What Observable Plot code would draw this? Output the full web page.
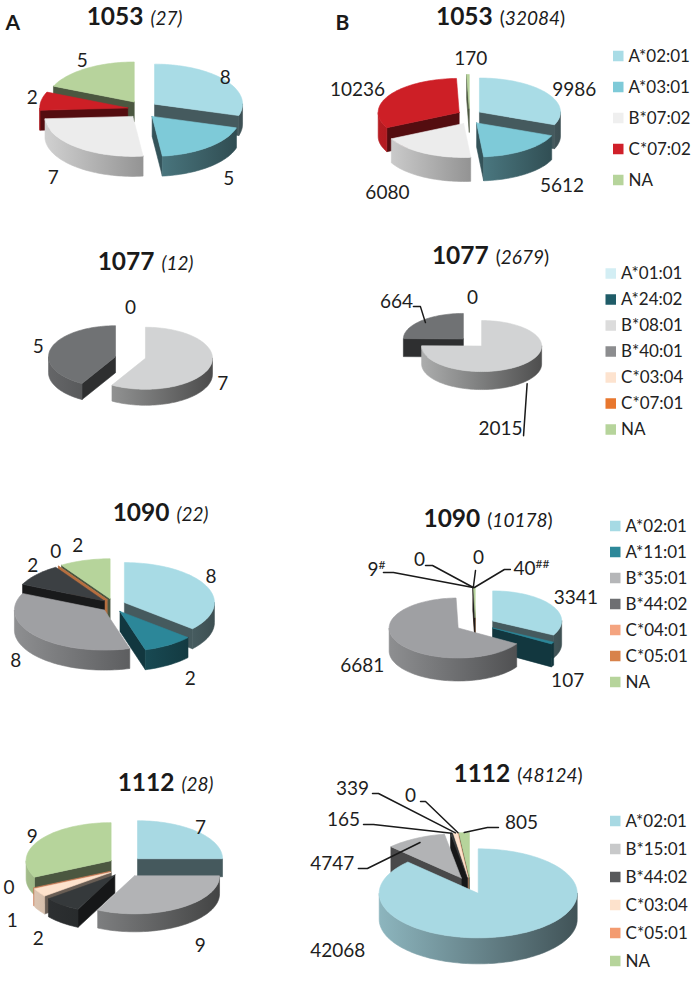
<!DOCTYPE html>
<html><head><meta charset="utf-8">
<script src="https://cdn.jsdelivr.net/npm/d3@7"></script>
<script src="https://cdn.jsdelivr.net/npm/@observablehq/plot@0.6"></script>
<style>
html,body{margin:0;padding:0;background:#fff;}
#chart svg{display:block;}
</style></head><body><div id="chart"></div>
<script>
// ---------------- DATA ----------------
const epitopes = ["1053", "1077", "1090", "1112"];
const panelNames = ["A", "B"];
const totalsA = [27, 12, 22, 28];
const totalsB = [32084, 2679, 10178, 48124];

const alleles1053 = ["A*02:01", "A*03:01", "B*07:02", "C*07:02", "NA"];
const countsA1053 = [8, 5, 7, 2, 5];
const countsB1053 = [9986, 5612, 6080, 10236, 170];

const alleles1077 = ["A*01:01", "A*24:02", "B*08:01", "B*40:01", "C*03:04", "C*07:01", "NA"];
const countsA1077 = [0, null, 7, 5, null, null, null];
const countsB1077 = [0, null, 2015, 664, null, null, null];

const alleles1090 = ["A*02:01", "A*11:01", "B*35:01", "B*44:02", "C*04:01", "C*05:01", "NA"];
const countsA1090 = [8, 2, 8, 2, 0, 0, 2];
const countsB1090 = [3341, 107, 6681, 9, 0, 0, 40];
const notesB1090 = ["", "", "", "#", "", "", "##"];

const alleles1112 = ["A*02:01", "B*15:01", "B*44:02", "C*03:04", "C*05:01", "NA"];
const countsA1112 = [7, 9, 2, 1, 0, 9];
const countsB1112 = [42068, 4747, 165, 339, 0, 805];

// ---------------- STYLES ----------------
const pie1053 = ["#a9dce6", "#7ecad8", "#ececec", "#cd1f26", "#b7d39c"];
const key1053 = ["#a9dce6", "#7ecad8", "#efefef", "#d0202a", "#b6d49b"];
const pie1077 = ["#d3eef4", "#1f5c68", "#d2d3d4", "#707274", "#fde3cf", "#e8772e", "#b6d49b"];
const key1077 = ["#d3eef4", "#1f5c68", "#dcdcdc", "#8c8d8f", "#fde3cf", "#e8772e", "#b6d49b"];
const pie1090 = ["#a8dbe5", "#2c8799", "#9fa0a3", "#3c4043", "#f4a480", "#d9834b", "#b6d49b"];
const key1090 = ["#a6dae4", "#2d8899", "#b5b6b8", "#6e6f72", "#f4a480", "#d8824a", "#b6d49b"];
const pie1112 = ["#a8d9e3", "#b2b3b5", "#35393b", "#fde2cc", "#f0956a", "#b6d49b"];
const key1112 = ["#a8d9e3", "#c8c9ca", "#58595b", "#fde2cc", "#f39b70", "#b6d49b"];

// ---------------- LAYOUT ----------------
const charts = [
  {ep: 0, panel: 0, alleles: alleles1053, counts: countsA1053, colors: pie1053, total: totalsA[0],
   cx: 142, cy: 109, rx: 88, ry: 40, depth: 20, ex: 15, ey: 9, tx: 134, ty: 24,
   nudge: [[-11, 6], [11, 1], [-14, 0], [5, -1], [4, 4]]},
  {ep: 0, panel: 1, alleles: alleles1053, counts: countsB1053, colors: pie1053, total: totalsB[0], key: key1053,
   cx: 469, cy: 116, rx: 81, ry: 34, depth: 24, ex: 12, ey: 8, tx: 500, ty: 24,
   nudge: [[16, 5], [29, 0], [-30, 3], [-20, 2], [3, -2]],
   legend: {x: 613, y: 56, step: 31}},
  {ep: 1, panel: 0, alleles: alleles1077, counts: countsA1077, colors: pie1077, total: totalsA[1],
   cx: 130, cy: 357, rx: 67, ry: 31, depth: 16, ex: 15.5, ey: 3, tx: 145, ty: 269,
   nudge: [[0, -2], null, [-1, -2], [1, 2]]},
  {ep: 1, panel: 1, alleles: alleles1077, counts: countsB1077, colors: pie1077, total: totalsB[1], key: key1077,
   cx: 472, cy: 342, rx: 60, ry: 25.5, depth: 18, ex: 13, ey: 5, tx: 490, ty: 263,
   nudge: [[0, 0]],
   leaders: [{i: 3, rf: 0.9, dx: -29, dy: -21, sx: 17, sy: 5, elbow: 7},
             {i: 2, rf: 1.08, side: true, dx: -26.6, dy: 45, sx: 23, sy: 7, elbow: 0}],
   legend: {x: 605.5, y: 273.5, step: 26}},
  {ep: 2, panel: 0, alleles: alleles1090, counts: countsA1090, colors: pie1090, total: totalsA[2],
   cx: 113, cy: 605, rx: 90, ry: 40, depth: 20, ex: 12, ey: 7, tx: 160, ty: 520,
   nudge: [[-8, -3], [14, 2], [-10, -5], [7, 0], [5, -2], null, [-3, -1]], hide: [5]},
  {ep: 2, panel: 1, alleles: alleles1090, counts: countsB1090, notes: notesB1090, colors: pie1090, total: totalsB[2], key: key1090,
   cx: 475, cy: 624, rx: 69, ry: 30, depth: 23, ex: 20, ey: 7, tx: 487.5, ty: 526,
   nudge: [[12, 0], [3, 8], [-24, -7]],
   leaders: [{i: 3, rf: 1, dx: -96.6, dy: -18, sx: 7, sy: 3, elbow: 10},
             {i: 4, rf: 1, dx: -53.8, dy: -28, sx: 6, sy: 6, elbow: 7},
             {i: 5, rf: 1, dx: 5.2, dy: -30, sx: -3, sy: 13, elbow: 0},
             {i: 6, rf: 1, dx: 57, dy: -19, sx: -21, sy: 1, elbow: -6}],
   legend: {x: 610, y: 526, step: 26}},
  {ep: 3, panel: 0, alleles: alleles1112, counts: countsA1112, colors: pie1112, total: totalsA[3],
   cx: 125, cy: 866, rx: 85, ry: 38, depth: 18, ex: 17, ey: 11, tx: 165, ty: 790,
   nudge: [[-7, 6], [13, 8], [-15, 5], [-15, 3], [-12, -24], [5, 4]]},
  {ep: 3, panel: 1, alleles: alleles1112, counts: countsB1112, colors: pie1112, total: totalsB[3], key: key1112,
   cx: 470, cy: 885, rx: 99, ry: 44.5, depth: 26, ex: 20, ey: 8.5, tx: 517.5, ty: 781,
   nudge: [[-184, -22]],
   leaders: [{i: 1, rf: 0.9, dx: -87.7, dy: 21, sx: 26, sy: 5, elbow: 9},
             {i: 2, rf: 1, dx: -108, dy: -13.7, sx: 20, sy: 5, elbow: 10},
             {i: 3, rf: 1, dx: -102.9, dy: -44.4, sx: 20, sy: 5, elbow: 6},
             {i: 4, rf: 1, dx: -47.5, dy: -37.3, sx: 10, sy: 6, elbow: 5},
             {i: 5, rf: 1, dx: 57.2, dy: -10.1, sx: -23, sy: 5, elbow: -11}],
   legend: {x: 610, y: 821, step: 28}}
];
const panelLetters = [{name: panelNames[0], x: 5, y: 29}, {name: panelNames[1], x: 335, y: 29}];

// ---------------- GEOMETRY ----------------
const rad = d => d * Math.PI / 180;
const polys = [], labelRows = [], leaderRows = [], gradients = [], titleRows = [], legendRows = [];

charts.forEach((c, ci) => {
  const total = d3.sum(c.counts.filter(v => v != null));
  let acc = 0;
  const slices = [];
  c.counts.forEach((v, i) => {
    if (v == null) return;
    const a0 = acc / total * 360; acc += v; const a1 = acc / total * 360;
    const am = (a0 + a1) / 2, t = rad(am);
    slices.push({i, v, a0, a1, am, ox: c.ex * Math.sin(t), oy: -c.ey * Math.cos(t), color: c.colors[i]});
  });
  const P = (s, th, r, z) => { const t = rad(th); return [c.cx + s.ox + r * c.rx * Math.sin(t), c.cy + s.oy - r * c.ry * Math.cos(t) + z]; };
  const arc = (s, b0, b1, z) => { const n = Math.max(1, Math.ceil((b1 - b0) / 2)); return d3.range(n + 1).map(k => P(s, b0 + (b1 - b0) * k / n, 1, z)); };
  const gx0 = c.cx - c.rx - c.ex, gx1 = c.cx + c.rx + c.ex;
  const d = c.depth;
  slices.forEach(s => {
    const base = d3.color(s.color);
    const gid = `g${ci}_${s.i}`;
    gradients.push({id: gid, x1: gx0, x2: gx1, stops: [[0, base.darker(0.3)], [0.5, base.darker(1.3)], [1, base.darker(2.9)]]});
    const wallFill = base.darker(2.5).formatHex();
    const zero = s.a1 - s.a0 < 1e-9;
    const V = P(s, 0, 0, 0), Vb = P(s, 0, 0, d);
    const sin0 = Math.sin(rad(s.a0)), sin1 = Math.sin(rad(s.a1));
    const radial = (a, f) => ({fill: f, pts: [V, P(s, a, 1, 0), P(s, a, 1, d), Vb]});
    const walls = [];
    if (zero) {
      if (Math.abs(sin0) > 1e-6) walls.push(radial(s.a0, base.darker(0.5).formatHex()));
    } else {
      if (sin0 < -1e-6) walls.push(radial(s.a0, wallFill));
      if (sin1 > 1e-6) walls.push(radial(s.a1, wallFill));
      const b0 = Math.max(s.a0, 90), b1 = Math.min(s.a1, 270);
      if (b1 - b0 > 1e-6) walls.push({fill: `url(#${gid})`, pts: [...arc(s, b0, b1, 0), ...arc(s, b0, b1, d).reverse()]});
    }
    walls.forEach(w => polys.push({...w, layer: 0, key: d3.mean(w.pts, p => p[1])}));
    if (!zero) polys.push({fill: s.color, layer: 1, key: 0, pts: [V, ...arc(s, s.a0, s.a1, 0)]});

    // labels
    const note = c.notes ? c.notes[s.i] : "";
    const text = String(s.v) + (note ? "^" + note : "");
    const t = rad(s.am), sn = Math.sin(t), cs = Math.cos(t);
    const ld = c.leaders ? c.leaders.find(l => l.i === s.i) : null;
    if (ld) {
      const A = [c.cx + (c.ex + ld.rf * c.rx) * sn, c.cy - (c.ey + ld.rf * c.ry) * cs + (ld.side ? d : 0)];
      const L = [A[0] + ld.dx, A[1] + ld.dy];
      labelRows.push({x: L[0], y: L[1], text});
      const st = [L[0] + ld.sx, L[1] + ld.sy];
      const pts = [st];
      if (ld.elbow) pts.push([st[0] + ld.elbow, st[1]]);
      pts.push(A);
      const lid = `${ci}_${s.i}`;
      pts.forEach(([x, y]) => leaderRows.push({id: lid, x, y}));
    } else if (!(c.hide && c.hide.includes(s.i))) {
      const front = cs < 0;
      const A = [c.cx + (c.ex + c.rx) * sn, c.cy - (c.ey + c.ry) * cs + (front ? d : 0)];
      const nz = (c.nudge && c.nudge[s.i]) || [0, 0];
      labelRows.push({x: A[0] + 14 * sn + nz[0], y: A[1] - 14 * cs + nz[1], text});
    }
  });
  titleRows.push({x: c.tx, y: c.ty, ep: epitopes[c.ep], panel: c.panel, total: c.total, plain: `${epitopes[c.ep]} (${c.total})`});
  if (c.legend) {
    c.alleles.forEach((a, i) => {
      const y = c.legend.y + i * c.legend.step;
      legendRows.push({name: a, color: c.key[i], x1: c.legend.x, x2: c.legend.x + 10.5, y1: y - 5.25, y2: y + 5.25, tx: c.legend.x + 15, y});
    });
  }
});

polys.sort((a, b) => a.layer - b.layer || a.key - b.key);
const polyRows = polys.flatMap((p, k) => [...p.pts, p.pts[0]].map(([x, y]) => ({id: k, x, y, fill: p.fill})));

// ---------------- PLOT ----------------
const svg = Plot.plot({
  width: 693, height: 984, margin: 0,
  x: {domain: [0, 693], range: [0, 693], axis: null},
  y: {domain: [0, 984], range: [0, 984], axis: null},
  color: {type: "identity"},
  style: {fontFamily: "Lato, 'Open Sans', sans-serif", background: "#fff"},
  marks: [
    Plot.line(polyRows, {x: "x", y: "y", z: "id", fill: "fill", stroke: "fill", strokeWidth: 0.6, curve: "linear"}),
    Plot.line(leaderRows, {x: "x", y: "y", z: "id", stroke: "#1a1a1a", strokeWidth: 1.5}),
    Plot.text(labelRows, {x: "x", y: "y", text: "text", fontSize: 19, fill: "#1e1e1e"}),
    Plot.text(titleRows, {x: "x", y: "y", text: "plain", lineAnchor: "bottom", fontSize: 19, fill: "#1a1a1a"}),
    Plot.text(panelLetters, {x: "x", y: "y", text: "name", textAnchor: "start", lineAnchor: "bottom", fontSize: 21, fontWeight: "bold", fill: "#1a1a1a"}),
    Plot.rect(legendRows, {x1: "x1", x2: "x2", y1: "y1", y2: "y2", fill: "color"}),
    Plot.text(legendRows, {x: "tx", y: "y", text: "name", textAnchor: "start", fontSize: 17, fill: "#222"})
  ]
});
document.getElementById("chart").appendChild(svg);

const root = d3.select(svg);
const defs = root.insert("defs", ":first-child");
gradients.forEach(g => {
  const lg = defs.append("linearGradient").attr("id", g.id).attr("gradientUnits", "userSpaceOnUse")
    .attr("x1", g.x1).attr("x2", g.x2).attr("y1", 0).attr("y2", 0);
  g.stops.forEach(([o, col]) => lg.append("stop").attr("offset", o).attr("stop-color", col.formatHex()));
});

root.selectAll("text").each(function () {
  const s = this.textContent;
  const el = d3.select(this);
  const t = titleRows.find(r => r.plain === s);
  if (t) {
    el.text(null);
    el.append("tspan").attr("font-weight", "bold").attr("font-size", 24.5).text(t.ep);
    if (t.panel === 0) {
      el.append("tspan").attr("dx", 7).attr("font-size", 19).attr("font-style", "italic").text(`(${t.total})`);
    } else {
      el.append("tspan").attr("dx", 7).attr("font-size", 19).text("(");
      el.append("tspan").attr("font-size", 19).attr("font-style", "italic").text(t.total);
      el.append("tspan").attr("font-size", 19).text(")");
    }
    return;
  }
  if (s.includes("^")) {
    const [b, sup] = s.split("^");
    el.text(null);
    el.append("tspan").text(b);
    el.append("tspan").attr("dy", -7).attr("font-size", 12).text(sup);
  }
});
</script>
</body></html>
